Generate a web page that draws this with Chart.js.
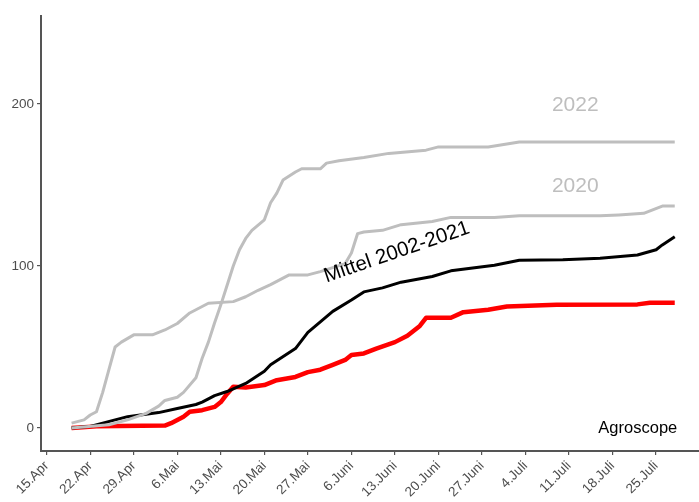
<!DOCTYPE html>
<html>
<head>
<meta charset="utf-8">
<script src="https://cdn.jsdelivr.net/npm/chart.js@4/dist/chart.umd.min.js"></script>
<style>
  html, body { margin: 0; padding: 0; background: #ffffff; }
  #wrap { width: 699px; height: 502px; }
</style>
</head>
<body>
<div id="wrap"><canvas id="chart" width="699" height="502"></canvas></div>
<script>
// Days counted from 15 April; weekly tick positions and their labels
const xTickDays = [0, 7, 14, 21, 28, 35, 42, 49, 56, 63, 70, 77, 84, 91, 98];
const xTickLabels = ["15.Apr", "22.Apr", "29.Apr", "6.Mai", "13.Mai", "20.Mai", "27.Mai",
  "6.Juni", "13.Juni", "20.Juni", "27.Juni", "4.Juli", "11.Juli", "18.Juli", "25.Juli"];
const yTickValues = [0, 100, 200];

// Year 2022 (grey)
const days2022 = [4, 10, 13, 16, 18, 19, 21, 22, 24, 25, 26, 27, 28, 29, 30, 31, 32, 33, 35, 36,
  37, 38, 40, 41, 44, 45, 47, 51, 55, 61, 63, 71, 76, 101];
const values2022 = [0, 2, 5, 9, 13.5, 17, 19, 22, 31, 43, 53, 65, 76, 88, 100, 110, 117, 122, 128.5, 139,
  145, 153, 158, 160, 160, 163.5, 165, 167, 169.5, 171.5, 173.5, 173.5, 176.5, 176.5];

// Year 2020 (grey)
const days2020 = [4, 6, 7, 8, 9, 10, 11, 12, 14, 17, 19, 21, 23, 25, 26, 30, 32, 34, 36, 39,
  42, 44, 48, 49, 50, 51, 54, 57, 62, 65, 72, 76, 89, 92, 96, 99, 101];
const values2020 = [3, 5, 8, 10, 22, 36, 50, 53, 57.5, 57.5, 60.5, 64.5, 71, 75, 77, 78, 81, 85, 88.5, 94.5,
  94.5, 96.5, 101.5, 108, 120, 121, 122, 125.5, 127.5, 130, 130, 131, 131, 131.5, 132.5, 137, 137];

// Mean 2002-2021 (black)
const daysMean = [4, 7, 9, 13, 18, 21, 24, 25, 27, 29, 32, 35, 36, 40, 42, 46, 49, 51, 54, 57,
  62, 65, 72, 76, 83, 89, 95, 98, 99, 101];
const valuesMean = [0, 1, 3, 7, 9.5, 12, 14.5, 16, 20, 22.5, 27.5, 35, 39, 49, 59, 72, 79, 84, 86.5, 90,
  93.5, 97, 100.5, 103.5, 103.8, 104.7, 106.8, 110, 113, 118];

// Current year (red)
const daysCurrent = [4, 8, 19, 20, 21, 22, 23, 25, 27, 28, 29, 30, 32, 35, 37, 40, 42, 44, 46, 48,
  49, 51, 53, 56, 58, 60, 61, 65, 67, 71, 74, 82, 95, 97, 101];
const valuesCurrent = [0, 1, 1.5, 3, 5, 7, 10, 11, 13, 16, 21, 25.5, 25, 26.5, 29.5, 31.5, 34.5, 36, 39, 42,
  45, 46, 49, 53, 57, 63, 68, 68, 71.5, 73, 75, 76, 76.3, 77.3, 77.3];

// Text labels placed in data coordinates
const textLabels = [
  { text: "2022", x: 85, y: 199, color: "#bebebe", size: 21, align: "center", angle: 0 },
  { text: "2020", x: 85, y: 149, color: "#bebebe", size: 21, align: "center", angle: 0 },
  { text: "Mittel 2002-2021", x: 56.3, y: 108.5, color: "#000000", size: 20.5, align: "center", angle: -19 },
  { text: "Agroscope", x: 101.4, y: 0, color: "#000000", size: 16.5, align: "right", angle: 0 }
];

const toPoints = (xs, ys) => xs.map((x, i) => ({ x: x, y: ys[i] }));

const fontFamily = "'Liberation Sans', Arial, Helvetica, sans-serif";
const axisGrey = "#4d4d4d";

const textLabelPlugin = {
  id: "textLabels",
  afterDatasetsDraw(chart) {
    const ctx = chart.ctx;
    const xs = chart.scales.x, ys = chart.scales.y;
    textLabels.forEach(l => {
      ctx.save();
      ctx.translate(xs.getPixelForValue(l.x), ys.getPixelForValue(l.y));
      ctx.rotate(l.angle * Math.PI / 180);
      ctx.font = l.size + "px " + fontFamily;
      ctx.fillStyle = l.color;
      ctx.textAlign = l.align;
      ctx.textBaseline = "middle";
      ctx.fillText(l.text, 0, 0);
      ctx.restore();
    });
  }
};

const lineStyle = (color, width) => ({
  borderColor: color,
  backgroundColor: color,
  borderWidth: width,
  pointRadius: 0,
  tension: 0,
  fill: false,
  borderJoinStyle: "round",
  borderCapStyle: "butt"
});

new Chart(document.getElementById("chart"), {
  type: "line",
  data: {
    datasets: [
      Object.assign({ label: "2022", data: toPoints(days2022, values2022) }, lineStyle("#bebebe", 3)),
      Object.assign({ label: "2020", data: toPoints(days2020, values2020) }, lineStyle("#bebebe", 3)),
      Object.assign({ label: "Mittel 2002-2021", data: toPoints(daysMean, valuesMean) }, lineStyle("#000000", 3)),
      Object.assign({ label: "aktuell", data: toPoints(daysCurrent, valuesCurrent) }, lineStyle("#ff0000", 4.5))
    ]
  },
  options: {
    responsive: false,
    devicePixelRatio: 1,
    animation: false,
    layout: { padding: { top: 16, right: 0, bottom: 0, left: 0 } },
    plugins: {
      legend: { display: false },
      tooltip: { enabled: false }
    },
    scales: {
      x: {
        type: "linear",
        min: -0.92,
        max: 104.9,
        afterBuildTicks: s => { s.ticks = xTickDays.map(v => ({ value: v })); },
        afterFit: s => { s.height = 51; },
        ticks: {
          autoSkip: false,
          minRotation: 45,
          maxRotation: 45,
          padding: 3,
          color: axisGrey,
          font: { family: fontFamily, size: 13.5 },
          callback: v => {
            const i = xTickDays.indexOf(v);
            return i >= 0 ? xTickLabels[i] : "";
          }
        },
        grid: { drawOnChartArea: false, drawTicks: true, tickLength: 4, color: "#555555", lineWidth: 1.2 },
        border: { display: true, color: "#555555", width: 2 }
      },
      y: {
        type: "linear",
        min: -14.2,
        max: 254.3,
        afterBuildTicks: s => { s.ticks = yTickValues.map(v => ({ value: v })); },
        afterFit: s => { s.width = 41; },
        ticks: {
          padding: 3,
          color: axisGrey,
          font: { family: fontFamily, size: 13.5 }
        },
        grid: { drawOnChartArea: false, drawTicks: true, tickLength: 4, color: "#555555", lineWidth: 1.2 },
        border: { display: true, color: "#555555", width: 2 }
      }
    }
  },
  plugins: [textLabelPlugin]
});
</script>
</body>
</html>
